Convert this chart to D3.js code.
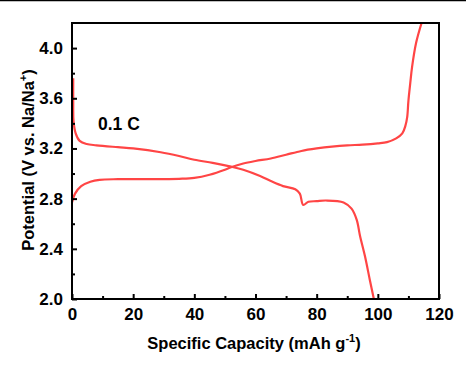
<!DOCTYPE html>
<html>
<head>
<meta charset="utf-8">
<script src="https://cdn.jsdelivr.net/npm/d3@7"></script>
<style>
  body { margin: 0; background: #fff; }
  text { font-family: "Liberation Sans", Arial, sans-serif; font-weight: bold; }
</style>
</head>
<body>
<div id="chart"></div>
<script>
// charge curve (capacity, potential)
let chargeCap = [0, 1, 3, 6, 9, 15, 25, 35, 40, 45, 50, 52, 56, 60, 65, 70, 75, 80, 85, 90, 95, 100, 103, 106, 108, 109, 109.6, 110, 110.6, 111.2, 112.5, 114.3];
let chargeV   = [2.77, 2.84, 2.9, 2.935, 2.95, 2.955, 2.955, 2.958, 2.965, 2.99, 3.03, 3.05, 3.08, 3.1, 3.12, 3.15, 3.18, 3.2, 3.215, 3.225, 3.23, 3.24, 3.25, 3.28, 3.32, 3.38, 3.45, 3.58, 3.72, 3.85, 4.04, 4.2];
// discharge curve
let dischargeCap = [0.4, 0.4, 0.5, 1.2, 2.5, 4.8, 8, 15, 20, 29, 35, 40, 46, 52, 56, 61.5, 65, 69, 73, 74.5, 75.6, 77.3, 80, 83, 88.8, 91.4, 93.1, 94.2, 95.8, 97.4, 98.7];
let dischargeV   = [3.76, 3.55, 3.42, 3.32, 3.26, 3.235, 3.225, 3.21, 3.2, 3.17, 3.14, 3.11, 3.085, 3.055, 3.03, 2.98, 2.94, 2.9, 2.875, 2.84, 2.75, 2.775, 2.78, 2.785, 2.77, 2.72, 2.63, 2.5, 2.34, 2.15, 2.0];

let xTicks = [0, 20, 40, 60, 80, 100, 120];
let xMinor = [10, 30, 50, 70, 90, 110];
let yTicks = [2.0, 2.4, 2.8, 3.2, 3.6, 4.0];
let yMinor = [2.2, 2.6, 3.0, 3.4, 3.8];

let W = 466, H = 372;
let mLeft = 72, mRight = 439, mTop = 23, mBottom = 299;

let svg = d3.select("#chart").append("svg")
  .attr("width", W)
  .attr("height", H);

// line at the very top of the picture
svg.append("line")
  .attr("x1", 0).attr("x2", W)
  .attr("y1", 0.5).attr("y2", 0.5)
  .attr("stroke", "#000").attr("stroke-width", 1.5);

let X = d3.scaleLinear().domain([0, 120]).range([mLeft, mRight]);
let Y = d3.scaleLinear().domain([2.0, 4.2]).range([mBottom, mTop]);

svg.append("clipPath").attr("id", "clip")
  .append("rect")
  .attr("x", mLeft).attr("y", mTop)
  .attr("width", mRight - mLeft).attr("height", mBottom - mTop);

let line = d3.line()
  .x(d => X(d[0]))
  .y(d => Y(d[1]))
  .curve(d3.curveCatmullRom.alpha(0.5));

let charge = chargeCap.map((c, i) => [c, chargeV[i]]);
let discharge = dischargeCap.map((c, i) => [c, dischargeV[i]]);

let plot = svg.append("g").attr("clip-path", "url(#clip)");
[charge, discharge].forEach(s => {
  plot.append("path")
    .datum(s)
    .attr("d", line)
    .attr("fill", "none")
    .attr("stroke", "#ff4545")
    .attr("stroke-width", 2.2);
});

// frame
svg.append("rect")
  .attr("x", mLeft).attr("y", mTop)
  .attr("width", mRight - mLeft).attr("height", mBottom - mTop)
  .attr("fill", "none").attr("stroke", "#000").attr("stroke-width", 2);

// axes, ticks inside
let xAxis = svg.append("g").attr("transform", `translate(0,${mBottom})`)
  .call(d3.axisBottom(X).tickValues(xTicks).tickSize(-5).tickPadding(9).tickFormat(d3.format("d")));
let xAxisMinor = svg.append("g").attr("transform", `translate(0,${mBottom})`)
  .call(d3.axisBottom(X).tickValues(xMinor).tickSize(-3).tickFormat(""));
let yAxis = svg.append("g").attr("transform", `translate(${mLeft},0)`)
  .call(d3.axisLeft(Y).tickValues(yTicks).tickSize(-5).tickPadding(9).tickFormat(d3.format(".1f")));
let yAxisMinor = svg.append("g").attr("transform", `translate(${mLeft},0)`)
  .call(d3.axisLeft(Y).tickValues(yMinor).tickSize(-3).tickFormat(""));

[xAxis, xAxisMinor, yAxis, yAxisMinor].forEach(a => {
  a.select(".domain").remove();
  a.selectAll("line").attr("stroke", "#000").attr("stroke-width", 2);
  a.selectAll("text").attr("font-size", 17).attr("fill", "#000")
    .attr("font-family", "'Liberation Sans', Arial, sans-serif").attr("font-weight", "bold");
});

// axis titles
let xt = svg.append("text")
  .attr("x", 254).attr("y", 349)
  .attr("text-anchor", "middle")
  .attr("font-size", 16.5);
xt.append("tspan").text("Specific Capacity (mAh g");
xt.append("tspan").text("-1").attr("font-size", 11).attr("dy", -7);
xt.append("tspan").text(")").attr("dy", 7);

let yt = svg.append("text")
  .attr("transform", "translate(34,160) rotate(-90)")
  .attr("text-anchor", "middle")
  .attr("font-size", 16.5);
yt.append("tspan").text("Potential (V vs. Na/Na");
yt.append("tspan").text("+").attr("font-size", 11).attr("dy", -7);
yt.append("tspan").text(")").attr("dy", 7);

svg.append("text")
  .attr("x", 98).attr("y", 130)
  .attr("font-size", 17.5)
  .text("0.1 C");
</script>
</body>
</html>
